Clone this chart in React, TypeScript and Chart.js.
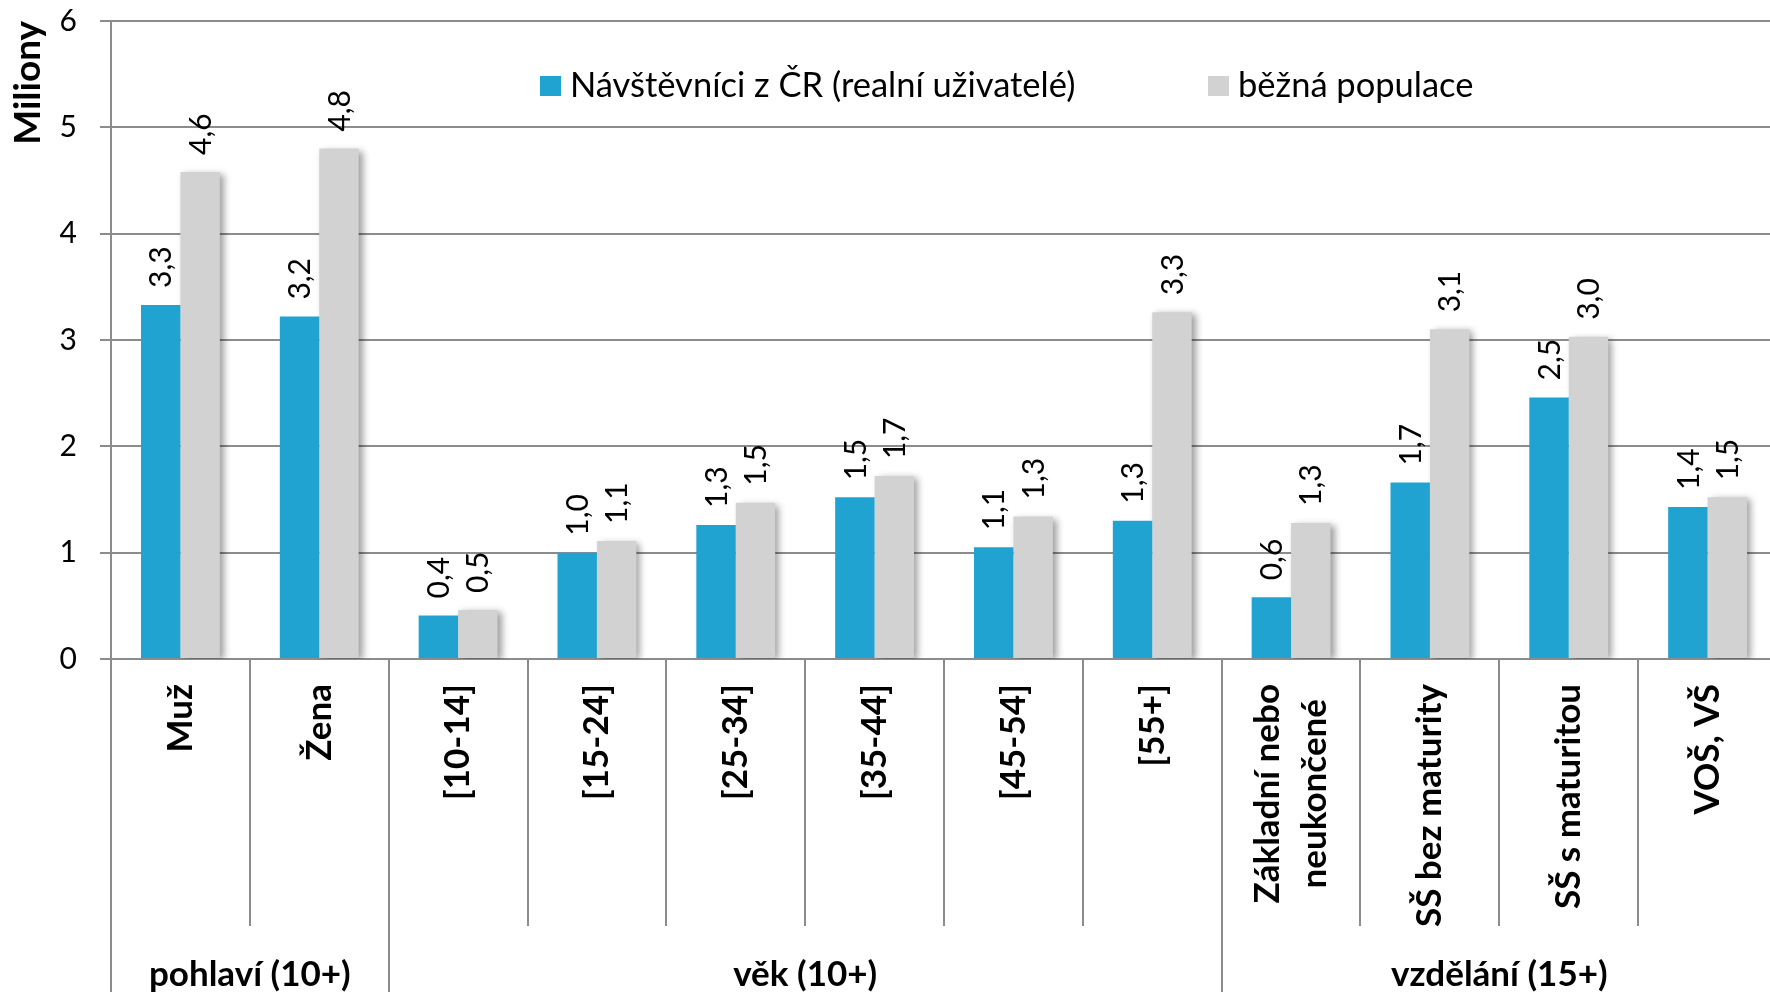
import React, { useEffect, useRef } from 'react';
import { Chart, registerables } from 'chart.js';

Chart.register(...registerables);

// ---- data ----
const categories: string[][] = [
  ['Muž'],
  ['Žena'],
  ['[10-14]'],
  ['[15-24]'],
  ['[25-34]'],
  ['[35-44]'],
  ['[45-54]'],
  ['[55+]'],
  ['Základní nebo', 'neukončené'],
  ['SŠ bez maturity'],
  ['SŠ s maturitou'],
  ['VOŠ, VŠ'],
];
const groupLabels = ['pohlaví (10+)', 'věk (10+)', 'vzdělání (15+)'];
const groupStarts = [0, 2, 8];
const groupEnds = [1, 7, 11];

const seriesNames = ['Návštěvníci z ČR (realní uživatelé)', 'běžná populace'];
const visitors = [3.33, 3.22, 0.41, 1.0, 1.26, 1.52, 1.05, 1.3, 0.58, 1.66, 2.46, 1.43];
const population = [4.58, 4.8, 0.46, 1.11, 1.47, 1.72, 1.34, 3.26, 1.28, 3.1, 3.03, 1.52];
const yTicks = [0, 1, 2, 3, 4, 5, 6];
const yTitle = 'Miliony';

// ---- style ----
const FONT = 'Lato, "Open Sans", sans-serif';
const BLUE = '#21a3d2';
const GRAY = '#d2d2d2';
const LINE = '#8c8c8c';
const W = 1780;
const H = 992;

const fmt = (v: number) => v.toFixed(1).replace('.', ',');

const shadowPlugin = {
  id: 'barShadow',
  beforeDatasetDraw(chart: any, args: any) {
    if (args.index !== 1) return;
    const ctx = chart.ctx;
    ctx.save();
    ctx.shadowColor = 'rgba(0,0,0,0.38)';
    ctx.shadowBlur = 7;
    ctx.shadowOffsetX = 4;
    ctx.shadowOffsetY = 2;
  },
  afterDatasetDraw(chart: any, args: any) {
    if (args.index !== 1) return;
    chart.ctx.restore();
  },
};

const decorPlugin = {
  id: 'decor',
  afterDatasetsDraw(chart: any) {
    const ctx = chart.ctx;
    // value labels
    ctx.save();
    ctx.fillStyle = '#000';
    ctx.font = `30px ${FONT}`;
    chart.data.datasets.forEach((ds: any, di: number) => {
      const meta = chart.getDatasetMeta(di);
      meta.data.forEach((bar: any, i: number) => {
        ctx.save();
        ctx.translate(bar.x + 1, bar.y - 17);
        ctx.rotate(-Math.PI / 2);
        ctx.textAlign = 'left';
        ctx.textBaseline = 'middle';
        ctx.fillText(fmt(ds.data[i]), 0, 0);
        ctx.restore();
      });
    });
    ctx.restore();
  },
  afterDraw(chart: any) {
    const ctx = chart.ctx;
    const area = chart.chartArea;
    const xs = chart.scales.x;
    const n = categories.length;
    const half = (xs.getPixelForValue(1) - xs.getPixelForValue(0)) / 2;
    const bound = (k: number) =>
      k < n ? xs.getPixelForValue(k) - half : xs.getPixelForValue(n - 1) + half;

    // separators
    ctx.save();
    ctx.strokeStyle = LINE;
    ctx.lineWidth = 2;
    for (let k = 0; k <= n; k++) {
      const isGroup = groupStarts.includes(k) || k === n;
      const x = Math.round(bound(k));
      ctx.beginPath();
      ctx.moveTo(x, area.bottom);
      ctx.lineTo(x, isGroup ? H : area.bottom + 267);
      ctx.stroke();
    }
    ctx.restore();

    // category labels
    ctx.save();
    ctx.fillStyle = '#000';
    ctx.font = `bold 35px ${FONT}`;
    categories.forEach((lines, i) => {
      const cx = xs.getPixelForValue(i);
      const wMax = Math.max(...lines.map((l) => ctx.measureText(l).width));
      const cy = area.bottom + 25 + wMax / 2;
      lines.forEach((l, j) => {
        const lx = cx + (j - (lines.length - 1) / 2) * 47;
        ctx.save();
        ctx.translate(lx, cy);
        ctx.rotate(-Math.PI / 2);
        ctx.textAlign = 'center';
        ctx.textBaseline = 'middle';
        ctx.fillText(l, 0, 0);
        ctx.restore();
      });
    });
    ctx.restore();

    // group labels
    ctx.save();
    ctx.fillStyle = '#000';
    ctx.font = `bold 35px ${FONT}`;
    ctx.textAlign = 'center';
    ctx.textBaseline = 'alphabetic';
    groupLabels.forEach((g, gi) => {
      const x = (bound(groupStarts[gi]) + bound(groupEnds[gi] + 1)) / 2;
      ctx.fillText(g, x, 986);
    });
    ctx.restore();

    // legend
    ctx.save();
    ctx.font = `34.5px ${FONT}`;
    ctx.textBaseline = 'middle';
    ctx.textAlign = 'left';
    const legendX = [540, 1208];
    chart.data.datasets.forEach((ds: any, di: number) => {
      const x = legendX[di];
      ctx.fillStyle = ds.backgroundColor;
      ctx.fillRect(x, 76, 21, 20);
      ctx.fillStyle = '#000';
      ctx.fillText(ds.label, x + 30, 86);
    });
    ctx.restore();
  },
};

export default function App() {
  const ref = useRef<HTMLCanvasElement | null>(null);

  useEffect(() => {
    if (!ref.current) return;
    const chart = new Chart(ref.current, {
      type: 'bar',
      data: {
        labels: categories.map((c) => c.join(' ')),
        datasets: [
          { label: seriesNames[0], data: visitors, backgroundColor: BLUE },
          { label: seriesNames[1], data: population, backgroundColor: GRAY },
        ],
      },
      options: {
        responsive: false,
        animation: false,
        devicePixelRatio: 1,
        layout: { padding: { top: 21, bottom: H - 659, left: 0, right: 3 } },
        datasets: {
          bar: { categoryPercentage: 0.568, barPercentage: 1, borderWidth: 0 },
        },
        plugins: {
          legend: { display: false },
          tooltip: { enabled: false },
          title: { display: false },
        },
        scales: {
          x: { display: false, offset: true },
          y: {
            min: yTicks[0],
            max: yTicks[yTicks.length - 1],
            afterBuildTicks: (s: any) => {
              s.ticks = yTicks.map((v) => ({ value: v }));
            },
            afterFit: (s: any) => {
              s.width = 111;
              s.paddingTop = 0;
              s.paddingBottom = 0;
            },
            ticks: {
              font: { family: FONT, size: 30 },
              color: '#000',
              padding: 23,
            },
            grid: { color: LINE, lineWidth: 2, tickLength: 11 },
            border: { display: true, color: LINE, width: 2 },
            title: {
              display: true,
              text: yTitle,
              align: 'end',
              color: '#000',
              font: { family: FONT, size: 37, weight: 'bold' },
              padding: { top: 6, bottom: 0 },
            },
          },
        },
      },
      plugins: [shadowPlugin, decorPlugin],
    });
    return () => chart.destroy();
  }, []);

  return (
    <div
      style={{
        position: 'fixed',
        left: 0,
        top: 0,
        width: 1770,
        height: H,
        overflow: 'hidden',
        background: '#fff',
      }}
    >
      <canvas ref={ref} width={W} height={H} style={{ width: W, height: H, display: 'block' }} />
    </div>
  );
}
